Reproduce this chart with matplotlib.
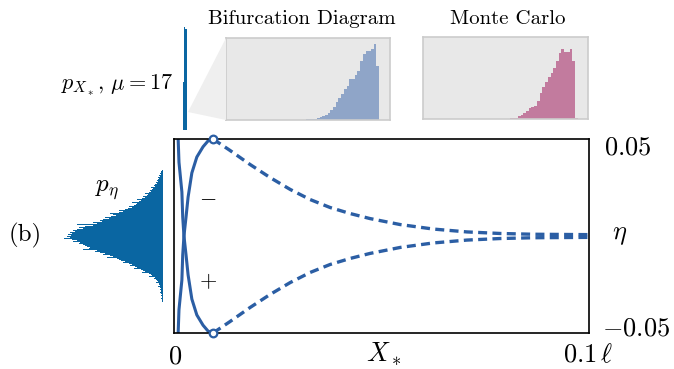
import matplotlib
matplotlib.use("Agg")
import matplotlib.pyplot as plt
import numpy as np
from matplotlib.patches import Polygon

plt.rcParams["font.family"] = "serif"
plt.rcParams["font.serif"] = ["cmr10"]
plt.rcParams["mathtext.fontset"] = "cm"
plt.rcParams["axes.unicode_minus"] = False

LINE_BLUE = "#2b5ea4"
HIST_BLUE = "#0a66a2"
BIF_COLOR = "#8fa5c8"
MC_COLOR = "#c27b9e"

# stable branch X*(eta); the other branch is its mirror image in eta
eta_stable = [0.05, 0.049, 0.046, 0.0407, 0.0325, 0.0201, 0.0098, 0.0,
              -0.0098, -0.0227, -0.038, -0.05]
x_stable = [0.0094, 0.0082, 0.0070, 0.0055, 0.0043, 0.0034, 0.0029, 0.0024,
            0.0021, 0.0019, 0.0012, 0.0010]

# unstable branch, from the fold point out to X* = 0.1
x_unstable = [0.0094, 0.0135, 0.0183, 0.0231, 0.0280, 0.0328, 0.0376, 0.0424,
              0.0472, 0.0545, 0.0624, 0.0706, 0.0786, 0.0865, 0.1]
eta_unstable = [0.05, 0.0441, 0.0369, 0.0302, 0.0240, 0.0188, 0.0147, 0.0116,
                0.0090, 0.0059, 0.0036, 0.0021, 0.0013, 0.0009, 0.0007]

fold_x = 0.0094
fold_eta = 0.05

# p_eta histogram, bins listed from eta_hi down to eta_lo
eta_lo, eta_hi = -0.034, 0.034
eta_counts = [
    1, 2, 2, 3, 2, 4, 3, 5, 4, 5,
    6, 5, 7, 6, 8, 9, 8, 12, 10, 11,
    13, 12, 14, 18, 15, 16, 20, 18, 21, 26,
    22, 24, 31, 26, 27, 29, 34, 31, 35, 38,
    44, 40, 44, 53, 50, 47, 52, 58, 54, 60,
    63, 61, 70, 66, 86, 70, 78, 84, 80, 86,
    90, 88, 93, 91, 95, 92, 96, 93, 99, 91,
    86, 90, 83, 84, 80, 78, 76, 73, 74, 80,
    66, 68, 63, 58, 60, 53, 50, 56, 46, 44,
    42, 38, 40, 34, 31, 33, 28, 26, 29, 22,
    20, 18, 21, 14, 12, 11, 14, 8, 9, 7,
    6, 5, 7, 4, 4, 3, 5, 3, 2, 3,
    2, 2, 3, 2, 1.5, 2, 1.5, 1, 2, 1,
    1, 1,
]

# p_X* at the scale of the diagram (relative heights)
px_lo, px_hi = 0.00210, 0.00308
px_counts = [0.47, 1.0, 0.98]

# zoomed p_X* histograms (mu = 17)
bif_lo, bif_hi = 0.00205, 0.00313
bif_counts = [0.7, 0.7, 1, 1.3, 2, 3, 4, 4.7, 6.7, 10, 12.7, 18, 22, 26, 30.7,
              34, 41.3, 40.7, 44.7, 49.3, 59, 66, 69.3, 68.7, 70.7, 76, 54]
mc_lo, mc_hi = 0.00194, 0.00314
mc_counts = [0.3, 0.3, 0.3, 0.3, 0.3, 0.7, 1, 1.5, 3, 4.5, 6, 8, 11, 12, 13.5,
             18, 26, 32, 37, 42, 46, 51, 58, 66, 70, 67, 67, 70, 58, 1.5]
zoom_xlim = (0.00087, 0.00329)

W, H = 674, 369
fig = plt.figure(figsize=(W / 100, H / 100), dpi=100)


def px_axes(x0, y0, x1, y1):
    return fig.add_axes([x0 / W, 1 - y1 / H, (x1 - x0) / W, (y1 - y0) / H])


def px_text(x, y, s, **kw):
    fig.text(x / W, 1 - y / H, s, **kw)


# main bifurcation diagram
ax = px_axes(174, 139, 589, 333)
ax.plot(x_stable, eta_stable, color=LINE_BLUE, lw=2.2, solid_capstyle="butt")
ax.plot(x_stable, -np.array(eta_stable), color=LINE_BLUE, lw=2.2,
        solid_capstyle="butt")
ax.plot(x_unstable, eta_unstable, color=LINE_BLUE, lw=2.4,
        ls=(0, (2.7, 1.6)))
ax.plot(x_unstable, -np.array(eta_unstable), color=LINE_BLUE, lw=2.4,
        ls=(0, (2.7, 1.6)))
ax.plot([fold_x, fold_x], [fold_eta, -fold_eta], ls="none", marker="o",
        ms=5.5, mfc="white", mec=LINE_BLUE, mew=1.6, clip_on=False, zorder=5)
ax.set_xlim(0, 0.1)
ax.set_ylim(-0.05, 0.05)
ax.set_xticks([])
ax.set_yticks([])
for sp in ax.spines.values():
    sp.set_linewidth(1.2)
ax.text(0.0082, 0.02, r"$-$", fontsize=16, ha="center", va="center")
ax.text(0.0082, -0.0235, r"$+$", fontsize=16, ha="center", va="center")

# p_eta on the left, sharing the eta scale
ax_eta = px_axes(60, 139, 163, 333)
edges = np.linspace(eta_lo, eta_hi, len(eta_counts) + 1)
ax_eta.stairs(eta_counts[::-1], edges, orientation="horizontal", fill=True,
              color=HIST_BLUE, lw=0)
ax_eta.set_xlim(103, 0)
ax_eta.set_ylim(-0.05, 0.05)
ax_eta.axis("off")

# narrow p_X* histogram above the diagram, same X* scale
ax_px = px_axes(174, 27, 589, 130)
ax_px.stairs(px_counts, np.linspace(px_lo, px_hi, len(px_counts) + 1),
             fill=True, color=HIST_BLUE, lw=0)
ax_px.set_xlim(0, 0.1)
ax_px.set_ylim(0, max(px_counts))
ax_px.axis("off")

# zoom wedge
wedge = Polygon([(188 / W, 1 - 112 / H), (226 / W, 1 - 38 / H),
                 (226 / W, 1 - 120 / H)], closed=True,
                transform=fig.transFigure, facecolor="#efefef",
                edgecolor="none", zorder=0)
fig.patches.append(wedge)

# zoomed insets
for box, lo, hi, counts, col, title, tx in [
    ((226, 38, 390, 120), bif_lo, bif_hi, bif_counts, BIF_COLOR,
     "Bifurcation Diagram", 302),
    ((423, 37, 588, 119), mc_lo, mc_hi, mc_counts, MC_COLOR,
     "Monte Carlo", 508),
]:
    axi = px_axes(*box)
    axi.set_facecolor("#e8e8e8")
    axi.stairs(counts, np.linspace(lo, hi, len(counts) + 1), fill=True,
               color=col, lw=0)
    axi.set_xlim(*zoom_xlim)
    axi.set_ylim(0, 82)
    axi.set_xticks([])
    axi.set_yticks([])
    for sp in axi.spines.values():
        sp.set_color("#cccccc")
        sp.set_linewidth(1.2)
    px_text(tx, 24, title, fontsize=15, ha="center", va="baseline")

# labels
px_text(173, 90, r"$p_{X_*},\, \mu = 17$", fontsize=16, ha="right",
        va="baseline")
px_text(95, 192, r"$p_\eta$", fontsize=18, ha="left", va="baseline")
px_text(25, 235, "(b)", fontsize=18, ha="center", va="center")
px_text(175, 363, r"$0$", fontsize=19, ha="center", va="baseline")
px_text(384, 362, r"$X_*$", fontsize=19, ha="center", va="baseline")
px_text(563, 362, r"$0.1\,\ell$", fontsize=19, ha="left", va="baseline")
px_text(604, 155, r"$0.05$", fontsize=19, ha="left", va="baseline")
px_text(602, 335, r"$-0.05$", fontsize=19, ha="left", va="baseline")
px_text(612, 239, r"$\eta$", fontsize=19, ha="left", va="baseline")

fig.savefig("out.png", dpi=100)
